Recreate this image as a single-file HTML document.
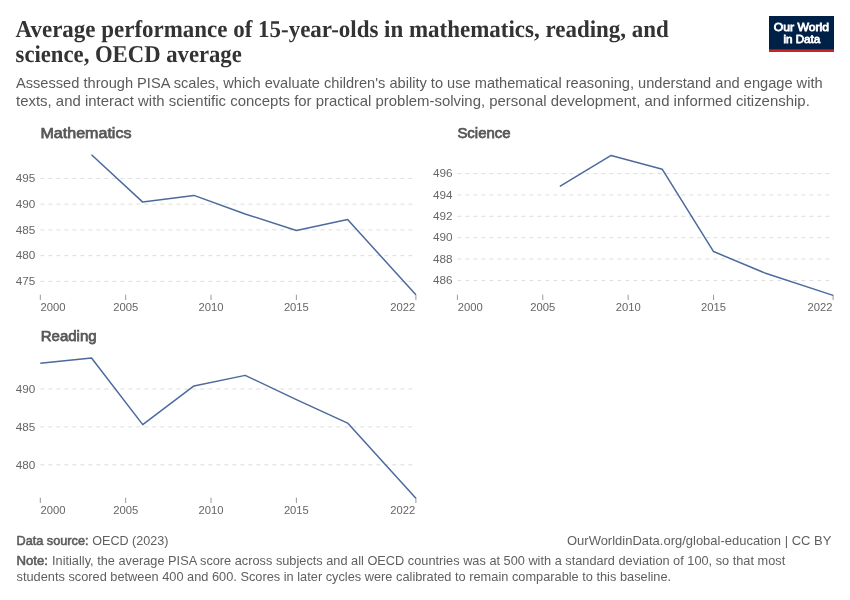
<!DOCTYPE html>
<html lang="en"><head><meta charset="utf-8"><title>Average performance of 15-year-olds in mathematics, reading, and science, OECD average</title>
<style>
html,body{margin:0;padding:0;background:#fff;}
svg{display:block;font-family:"Liberation Sans",sans-serif;}
.t{font-family:"Liberation Serif",serif;font-weight:bold;fill:#333;text-rendering:geometricPrecision;}
.s{fill:#5b5b5b;}
.h{fill:#585858;stroke:#585858;stroke-width:0.75;}
.k{fill:#666;}
.f{fill:#5f5f5f;}
.w{fill:#fff;stroke:#fff;stroke-width:0.8;}
.fb{fill:#5b5b5b;stroke:#5b5b5b;stroke-width:0.55;}
.g{stroke:#ddd;stroke-width:1;stroke-dasharray:4 4;fill:none;}
.x{stroke:#999;stroke-width:1;fill:none;}
.l{stroke:#4c6a9c;stroke-width:1.5;fill:none;stroke-linejoin:round;stroke-linecap:butt;}
</style></head><body>
<svg width="850" height="600" viewBox="0 0 850 600">
<rect width="850" height="600" fill="#fff"/>
<text x="15.6" y="36.7" class="t" font-size="24.2" textLength="653.2" lengthAdjust="spacingAndGlyphs">Average performance of 15-year-olds in mathematics, reading, and</text>
<text x="15.6" y="61.7" class="t" font-size="24.2" textLength="226.2" lengthAdjust="spacingAndGlyphs">science, OECD average</text>
<text x="16" y="87.7" class="s" font-size="14.6" textLength="806.6" lengthAdjust="spacingAndGlyphs">Assessed through PISA scales, which evaluate children's ability to use mathematical reasoning, understand and engage with</text>
<text x="16" y="105.7" class="s" font-size="14.6" textLength="793.8" lengthAdjust="spacingAndGlyphs">texts, and interact with scientific concepts for practical problem-solving, personal development, and informed citizenship.</text>
<rect x="769" y="16" width="65" height="36" fill="#002147"/>
<rect x="769" y="49.4" width="65" height="2.6" fill="#ce261e"/>
<text x="801.4" y="30.6" class="w" font-size="11.3" text-anchor="middle" textLength="55.2" lengthAdjust="spacingAndGlyphs">Our World</text>
<text x="801.8" y="42.8" class="w" font-size="11.3" text-anchor="middle" textLength="36.8" lengthAdjust="spacingAndGlyphs">in Data</text>
<text x="40.5" y="138" class="h" font-size="15.4" textLength="91" lengthAdjust="spacingAndGlyphs">Mathematics</text>
<line class="g" x1="40.3" y1="178.4" x2="415.9" y2="178.4"/>
<text x="35.3" y="182.2" class="k" font-size="11.3" text-anchor="end" textLength="19.6" lengthAdjust="spacingAndGlyphs">495</text>
<line class="g" x1="40.3" y1="204.15" x2="415.9" y2="204.15"/>
<text x="35.3" y="207.95" class="k" font-size="11.3" text-anchor="end" textLength="19.6" lengthAdjust="spacingAndGlyphs">490</text>
<line class="g" x1="40.3" y1="229.9" x2="415.9" y2="229.9"/>
<text x="35.3" y="233.7" class="k" font-size="11.3" text-anchor="end" textLength="19.6" lengthAdjust="spacingAndGlyphs">485</text>
<line class="g" x1="40.3" y1="255.65" x2="415.9" y2="255.65"/>
<text x="35.3" y="259.45" class="k" font-size="11.3" text-anchor="end" textLength="19.6" lengthAdjust="spacingAndGlyphs">480</text>
<line class="g" x1="40.3" y1="281.4" x2="415.9" y2="281.4"/>
<text x="35.3" y="285.2" class="k" font-size="11.3" text-anchor="end" textLength="19.6" lengthAdjust="spacingAndGlyphs">475</text>
<line class="x" x1="40.3" y1="294.7" x2="40.3" y2="300"/>
<text x="40.6" y="311" class="k" font-size="11.3" text-anchor="start" textLength="25" lengthAdjust="spacingAndGlyphs">2000</text>
<line class="x" x1="125.66" y1="294.7" x2="125.66" y2="300"/>
<text x="125.66" y="311" class="k" font-size="11.3" text-anchor="middle" textLength="25" lengthAdjust="spacingAndGlyphs">2005</text>
<line class="x" x1="211.03" y1="294.7" x2="211.03" y2="300"/>
<text x="211.03" y="311" class="k" font-size="11.3" text-anchor="middle" textLength="25" lengthAdjust="spacingAndGlyphs">2010</text>
<line class="x" x1="296.39" y1="294.7" x2="296.39" y2="300"/>
<text x="296.39" y="311" class="k" font-size="11.3" text-anchor="middle" textLength="25" lengthAdjust="spacingAndGlyphs">2015</text>
<line class="x" x1="415.9" y1="294.7" x2="415.9" y2="300"/>
<text x="415.3" y="311" class="k" font-size="11.3" text-anchor="end" textLength="25" lengthAdjust="spacingAndGlyphs">2022</text>
<polyline class="l" points="91.52,154.71 142.74,202.09 193.95,195.4 245.17,213.93 296.39,230.42 347.61,219.6 415.9,294.79"/>
<text x="457.4" y="138" class="h" font-size="15.4" textLength="53.2" lengthAdjust="spacingAndGlyphs">Science</text>
<line class="g" x1="457.4" y1="173.6" x2="833.1" y2="173.6"/>
<text x="452.5" y="177.4" class="k" font-size="11.3" text-anchor="end" textLength="19.6" lengthAdjust="spacingAndGlyphs">496</text>
<line class="g" x1="457.4" y1="194.96" x2="833.1" y2="194.96"/>
<text x="452.5" y="198.76" class="k" font-size="11.3" text-anchor="end" textLength="19.6" lengthAdjust="spacingAndGlyphs">494</text>
<line class="g" x1="457.4" y1="216.32" x2="833.1" y2="216.32"/>
<text x="452.5" y="220.12" class="k" font-size="11.3" text-anchor="end" textLength="19.6" lengthAdjust="spacingAndGlyphs">492</text>
<line class="g" x1="457.4" y1="237.68" x2="833.1" y2="237.68"/>
<text x="452.5" y="241.48" class="k" font-size="11.3" text-anchor="end" textLength="19.6" lengthAdjust="spacingAndGlyphs">490</text>
<line class="g" x1="457.4" y1="259.04" x2="833.1" y2="259.04"/>
<text x="452.5" y="262.84" class="k" font-size="11.3" text-anchor="end" textLength="19.6" lengthAdjust="spacingAndGlyphs">488</text>
<line class="g" x1="457.4" y1="280.4" x2="833.1" y2="280.4"/>
<text x="452.5" y="284.2" class="k" font-size="11.3" text-anchor="end" textLength="19.6" lengthAdjust="spacingAndGlyphs">486</text>
<line class="x" x1="457.4" y1="294.7" x2="457.4" y2="300"/>
<text x="457.7" y="311" class="k" font-size="11.3" text-anchor="start" textLength="25" lengthAdjust="spacingAndGlyphs">2000</text>
<line class="x" x1="542.79" y1="294.7" x2="542.79" y2="300"/>
<text x="542.79" y="311" class="k" font-size="11.3" text-anchor="middle" textLength="25" lengthAdjust="spacingAndGlyphs">2005</text>
<line class="x" x1="628.17" y1="294.7" x2="628.17" y2="300"/>
<text x="628.17" y="311" class="k" font-size="11.3" text-anchor="middle" textLength="25" lengthAdjust="spacingAndGlyphs">2010</text>
<line class="x" x1="713.56" y1="294.7" x2="713.56" y2="300"/>
<text x="713.56" y="311" class="k" font-size="11.3" text-anchor="middle" textLength="25" lengthAdjust="spacingAndGlyphs">2015</text>
<line class="x" x1="833.1" y1="294.7" x2="833.1" y2="300"/>
<text x="832.5" y="311" class="k" font-size="11.3" text-anchor="end" textLength="25" lengthAdjust="spacingAndGlyphs">2022</text>
<polyline class="l" points="559.86,186.42 611.1,155.44 662.33,169.33 713.56,251.56 764.79,272.92 833.1,295.35"/>
<text x="40.7" y="341.2" class="h" font-size="15.4" textLength="56" lengthAdjust="spacingAndGlyphs">Reading</text>
<line class="g" x1="40.3" y1="389" x2="415.9" y2="389"/>
<text x="35.3" y="392.8" class="k" font-size="11.3" text-anchor="end" textLength="19.6" lengthAdjust="spacingAndGlyphs">490</text>
<line class="g" x1="40.3" y1="426.9" x2="415.9" y2="426.9"/>
<text x="35.3" y="430.7" class="k" font-size="11.3" text-anchor="end" textLength="19.6" lengthAdjust="spacingAndGlyphs">485</text>
<line class="g" x1="40.3" y1="464.8" x2="415.9" y2="464.8"/>
<text x="35.3" y="468.6" class="k" font-size="11.3" text-anchor="end" textLength="19.6" lengthAdjust="spacingAndGlyphs">480</text>
<line class="x" x1="40.3" y1="497.7" x2="40.3" y2="503"/>
<text x="40.6" y="514" class="k" font-size="11.3" text-anchor="start" textLength="25" lengthAdjust="spacingAndGlyphs">2000</text>
<line class="x" x1="125.66" y1="497.7" x2="125.66" y2="503"/>
<text x="125.66" y="514" class="k" font-size="11.3" text-anchor="middle" textLength="25" lengthAdjust="spacingAndGlyphs">2005</text>
<line class="x" x1="211.03" y1="497.7" x2="211.03" y2="503"/>
<text x="211.03" y="514" class="k" font-size="11.3" text-anchor="middle" textLength="25" lengthAdjust="spacingAndGlyphs">2010</text>
<line class="x" x1="296.39" y1="497.7" x2="296.39" y2="503"/>
<text x="296.39" y="514" class="k" font-size="11.3" text-anchor="middle" textLength="25" lengthAdjust="spacingAndGlyphs">2015</text>
<line class="x" x1="415.9" y1="497.7" x2="415.9" y2="503"/>
<text x="415.3" y="514" class="k" font-size="11.3" text-anchor="end" textLength="25" lengthAdjust="spacingAndGlyphs">2022</text>
<polyline class="l" points="40.3,363.23 91.52,357.92 142.74,424.63 193.95,385.97 245.17,375.36 296.39,399.61 347.61,423.11 415.9,498.15"/>
<text x="16.5" y="544.8" class="fb" font-size="12.2" textLength="72" lengthAdjust="spacingAndGlyphs">Data source:</text>
<text x="92.2" y="544.8" class="f" font-size="12.2" textLength="76.3" lengthAdjust="spacingAndGlyphs">OECD (2023)</text>
<text x="831.3" y="544.8" class="f" font-size="12.2" text-anchor="end" textLength="264.3" lengthAdjust="spacingAndGlyphs">OurWorldinData.org/global-education | CC BY</text>
<text x="16.5" y="564.8" class="fb" font-size="12.2" textLength="31.5" lengthAdjust="spacingAndGlyphs">Note:</text>
<text x="52" y="564.8" class="f" font-size="12.2" textLength="733.2" lengthAdjust="spacingAndGlyphs">Initially, the average PISA score across subjects and all OECD countries was at 500 with a standard deviation of 100, so that most</text>
<text x="16.5" y="580.5" class="f" font-size="12.2" textLength="654.6" lengthAdjust="spacingAndGlyphs">students scored between 400 and 600. Scores in later cycles were calibrated to remain comparable to this baseline.</text>
</svg>
</body></html>
